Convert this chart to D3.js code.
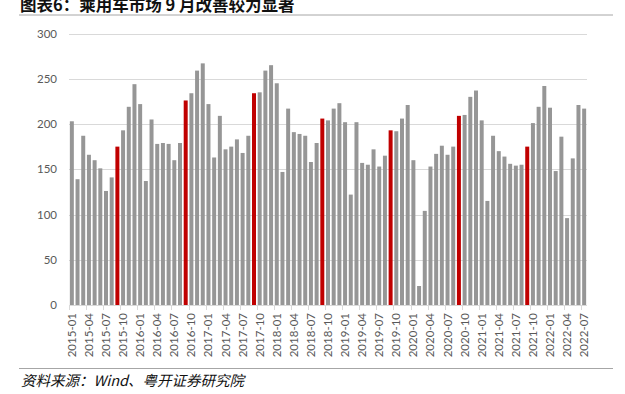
<!DOCTYPE html>
<html>
<head>
<meta charset="utf-8">
<script src="https://cdn.jsdelivr.net/npm/d3@7"></script>
<style>
  body { margin: 0; background: #fff; }
  svg text { font-family: Lato, "Noto Sans CJK SC", sans-serif; }
</style>
</head>
<body>
<svg id="chart" width="625" height="394"></svg>
<script>
// monthly sales, 2015-01 .. 2022-07 (万辆)
const startYear = 2015;
const values = [
  203, 139, 187, 166, 160, 151, 126, 141, 175, 193, 219, 244,   // 2015
  222, 137, 205, 178, 179, 178, 160, 179, 226, 234, 259, 267,   // 2016
  222, 163, 209, 172, 175, 183, 168, 187, 234, 235, 259, 265,   // 2017
  245, 147, 217, 191, 189, 187, 158, 179, 206, 204, 217, 223,   // 2018
  202, 122, 202, 157, 155, 172, 153, 165, 193, 192, 206, 221,   // 2019
  160,  21, 104, 153, 167, 176, 166, 175, 209, 210, 230, 237,   // 2020
  204, 115, 187, 170, 164, 156, 154, 155, 175, 201, 219, 242,   // 2021
  218, 148, 186,  96, 162, 221, 217                             // 2022
];
const months = values.map((v, i) => {
  const y = startYear + Math.floor(i / 12);
  const m = (i % 12) + 1;
  return y + "-" + String(m).padStart(2, "0");
});
const yTicks = [0, 50, 100, 150, 200, 250, 300];
const highlightMonth = "09";

const title = "图表6：乘用车市场 9 月改善较为显著";
const source = "资料来源：Wind、粤开证券研究院";

const svg = d3.select("#chart");

const x = d3.scaleBand()
  .domain(months)
  .range([69, 587])
  .paddingInner(0.3)
  .paddingOuter(0.15);

const y = d3.scaleLinear()
  .domain([0, 300])
  .range([305, 33.5]);

// title + rule
svg.append("text")
  .attr("x", 20)
  .attr("y", 11)
  .attr("font-size", 16.5)
  .attr("font-weight", "bold")
  .style("font-family", "'Noto Sans CJK SC', sans-serif")
  .attr("fill", "#111")
  .text(title);

svg.append("line")
  .attr("x1", 19).attr("x2", 613)
  .attr("y1", 15).attr("y2", 15)
  .attr("stroke", "#a6a6a6")
  .attr("stroke-width", 1);

// gridlines
svg.append("g")
  .selectAll("line")
  .data(yTicks.filter(d => d > 0))
  .join("line")
  .attr("x1", 69).attr("x2", 587)
  .attr("y1", d => Math.round(y(d)) + 0.5)
  .attr("y2", d => Math.round(y(d)) + 0.5)
  .attr("stroke", "#d9d9d9")
  .attr("stroke-width", 1);

// y labels
svg.append("g")
  .selectAll("text")
  .data(yTicks)
  .join("text")
  .attr("x", 57)
  .attr("y", d => y(d))
  .attr("dy", "0.35em")
  .attr("text-anchor", "end")
  .attr("font-size", 11.5)
  .attr("fill", "#595959")
  .text(d => d);

// bars
svg.append("g")
  .selectAll("rect")
  .data(values)
  .join("rect")
  .attr("x", (d, i) => x(months[i]))
  .attr("width", x.bandwidth())
  .attr("y", d => y(d))
  .attr("height", d => y(0) - y(d))
  .attr("fill", (d, i) => months[i].slice(5) === highlightMonth ? "#c00000" : "#969696");

// x baseline + ticks every 3 months
const step = x.step();
const x0 = x.range()[0];
svg.append("line")
  .attr("x1", 69).attr("x2", 587)
  .attr("y1", 305.5).attr("y2", 305.5)
  .attr("stroke", "#d9d9d9");

svg.append("g")
  .selectAll("line")
  .data(d3.range(0, months.length + 1, 3))
  .join("line")
  .attr("x1", i => Math.round(x0 + i * step) + 0.5)
  .attr("x2", i => Math.round(x0 + i * step) + 0.5)
  .attr("y1", 305).attr("y2", 310)
  .attr("stroke", "#d9d9d9");

// x labels
svg.append("g")
  .selectAll("text")
  .data(months.filter((m, i) => i % 3 === 0))
  .join("text")
  .attr("transform", m => `translate(${x(m) + x.bandwidth() / 2},313) rotate(-90)`)
  .attr("dy", "0.35em")
  .attr("text-anchor", "end")
  .attr("font-size", 11.5)
  .attr("fill", "#595959")
  .text(m => m);

// bottom rule + source
svg.append("line")
  .attr("x1", 19).attr("x2", 613)
  .attr("y1", 368.5).attr("y2", 368.5)
  .attr("stroke", "#a6a6a6");

svg.append("text")
  .attr("x", 21)
  .attr("y", 386)
  .attr("font-size", 14.5)
  .attr("font-style", "italic")
  .style("font-family", "'Noto Sans CJK SC', sans-serif")
  .attr("fill", "#111")
  .text(source);
</script>
</body>
</html>
